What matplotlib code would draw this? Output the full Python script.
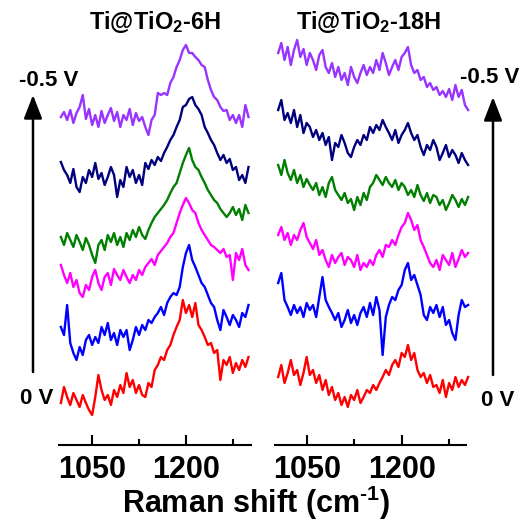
import numpy as np
import matplotlib
matplotlib.use("Agg")
import matplotlib.pyplot as plt
from matplotlib.ticker import FixedLocator

plt.rcParams['font.family'] = ['Liberation Sans', 'DejaVu Sans']
plt.rcParams['font.weight'] = 'bold'
plt.rcParams['mathtext.fontset'] = 'custom'
plt.rcParams['mathtext.rm'] = 'Liberation Sans:bold'
plt.rcParams['mathtext.bf'] = 'Liberation Sans:bold'
plt.rcParams['mathtext.default'] = 'bf'

# Raman shift grids (cm^-1)
x_6h = np.arange(1000, 1305, 5)
x_18h = np.arange(1005, 1310, 5)

# Stacked intensities (a.u., offsets included), bottom (0 V) to top (-0.5 V)
red_6h = [42, 58, 48, 40, 52, 45, 38, 50, 42, 35, 30, 48, 70, 55, 45, 50, 40, 55, 48, 60,
          52, 72, 58, 65, 52, 60, 50, 48, 62, 58, 75, 80, 88, 85, 95, 100, 110, 118, 125, 145,
          132, 140, 128, 142, 120, 115, 108, 100, 102, 92, 95, 65, 85, 80, 88, 72, 82, 75, 85, 78, 88]
blue_6h = [118, 110, 140, 102, 92, 85, 98, 90, 105, 110, 100, 108, 102, 118, 110, 122, 105, 112, 100, 115,
           108, 115, 95, 105, 118, 110, 120, 115, 125, 122, 128, 132, 138, 130, 142, 148, 152, 150, 158, 178,
           192, 200, 185, 178, 170, 162, 158, 150, 142, 138, 125, 115, 135, 128, 120, 130, 125, 118, 132, 128, 140]
magenta_6h = [180, 170, 162, 172, 158, 165, 152, 148, 160, 155, 168, 175, 162, 155, 168, 172, 160, 176, 170, 165,
              175, 168, 162, 170, 165, 175, 170, 178, 182, 186, 180, 190, 194, 198, 202, 208, 212, 222, 232, 240,
              247, 242, 235, 232, 222, 215, 210, 205, 200, 198, 195, 192, 196, 188, 190, 165, 192, 185, 196, 180, 175]
green_6h = [208, 200, 212, 205, 198, 210, 203, 195, 207, 200, 190, 182, 200, 205, 195, 210, 203, 212, 200, 208,
            198, 212, 205, 215, 208, 218, 210, 206, 215, 222, 228, 232, 236, 240, 245, 252, 258, 262, 272, 282,
            290, 297, 285, 278, 275, 268, 262, 255, 250, 245, 242, 236, 232, 228, 232, 238, 230, 236, 225, 240, 232]
navy_6h = [283, 275, 270, 262, 276, 258, 253, 268, 262, 275, 268, 282, 266, 272, 260, 268, 278, 270, 248, 265,
           258, 278, 268, 275, 262, 270, 260, 282, 276, 285, 280, 288, 284, 292, 298, 305, 310, 318, 325, 338,
           340, 346, 348, 340, 336, 330, 318, 312, 305, 300, 292, 285, 290, 282, 286, 275, 278, 265, 270, 262, 278]
purple_6h = [328, 333, 325, 335, 322, 332, 338, 350, 326, 336, 320, 330, 318, 334, 322, 330, 337, 324, 333, 318,
             330, 325, 336, 320, 332, 324, 328, 318, 310, 325, 330, 352, 350, 352, 350, 362, 368, 378, 385, 395,
             400, 392, 392, 388, 385, 380, 378, 365, 355, 348, 345, 338, 334, 335, 325, 330, 322, 330, 318, 340, 328]

red_18h = [68, 80, 62, 72, 85, 70, 75, 60, 72, 88, 70, 75, 62, 70, 55, 65, 50, 58, 45, 52,
           40, 48, 38, 50, 45, 55, 42, 48, 55, 52, 60, 55, 62, 68, 75, 70, 80, 85, 78, 92,
           88, 100, 85, 92, 75, 68, 72, 62, 70, 58, 60, 52, 65, 48, 62, 55, 68, 58, 65, 60, 68]
blue_18h = [162, 172, 145, 138, 130, 140, 132, 138, 128, 142, 135, 140, 128, 148, 168, 145, 138, 132, 125, 132,
            118, 125, 135, 122, 130, 120, 132, 138, 128, 142, 130, 148, 135, 90, 128, 140, 148, 145, 155, 160,
            175, 182, 165, 170, 160, 150, 130, 125, 138, 132, 140, 128, 138, 120, 125, 112, 105, 130, 145, 138, 140]
magenta_18h = [210, 218, 205, 212, 200, 210, 205, 215, 222, 208, 202, 196, 205, 190, 195, 185, 178, 190, 182, 188,
               192, 180, 188, 185, 178, 190, 175, 182, 178, 185, 180, 190, 195, 188, 200, 198, 205, 200, 210, 218,
               222, 232, 225, 215, 220, 205, 198, 190, 182, 178, 185, 175, 190, 185, 180, 192, 178, 186, 195, 188, 192]
green_18h = [280, 270, 285, 272, 265, 275, 262, 270, 258, 266, 260, 255, 262, 250, 258, 248, 262, 268, 255, 250,
             245, 252, 242, 246, 235, 248, 240, 252, 245, 258, 262, 270, 265, 260, 268, 262, 258, 265, 255, 262,
             258, 250, 255, 248, 260, 250, 244, 252, 242, 250, 248, 240, 245, 235, 242, 250, 245, 238, 246, 240, 248]
navy_18h = [335, 345, 325, 332, 322, 335, 318, 330, 312, 322, 318, 308, 315, 305, 312, 300, 308, 285, 302, 298,
            310, 302, 292, 288, 298, 305, 300, 310, 305, 318, 312, 320, 315, 325, 318, 312, 305, 315, 302, 310,
            315, 322, 312, 305, 310, 298, 290, 300, 295, 305, 298, 285, 292, 300, 288, 295, 290, 282, 292, 285, 280]
purple_18h = [392, 402, 385, 398, 380, 395, 405, 388, 396, 380, 392, 385, 375, 390, 395, 378, 372, 382, 368, 378,
              365, 372, 360, 378, 368, 362, 372, 380, 370, 378, 372, 385, 375, 392, 382, 370, 378, 385, 375, 388,
              392, 398, 380, 372, 375, 365, 368, 358, 362, 355, 358, 350, 354, 348, 356, 345, 360, 348, 355, 340, 335]

colors = ['#FF0000', '#0000FF', '#FF00FF', '#007F00', '#00007F', '#9933FF']
series_6h = [red_6h, blue_6h, magenta_6h, green_6h, navy_6h, purple_6h]
series_18h = [red_18h, blue_18h, magenta_18h, green_18h, navy_18h, purple_18h]

titles = [r'Ti@TiO$_{2}$-6H', r'Ti@TiO$_{2}$-18H']
major_ticks = [1050, 1200]
minor_ticks = [1125, 1275]
tick_labels = ['1050', '1200']

W, H = 528, 521
fig = plt.figure(figsize=(W / 100, H / 100), dpi=100)

def px_rect(x0, x1, ytop, ybot):
    return [x0 / W, 1 - ybot / H, (x1 - x0) / W, (ybot - ytop) / H]

ax1 = fig.add_axes(px_rect(59, 251, 10, 445))
ax2 = fig.add_axes(px_rect(275, 470, 10, 445))

for ax, xs, series, xlim, bounds in [(ax1, x_6h, series_6h, (997, 1304), (997, 1304)),
                                      (ax2, x_18h, series_18h, (1000, 1308), (1000, 1301))]:
    for ys, c in zip(series, colors):
        ax.plot(xs, ys, color=c, lw=1.7, clip_on=False)
    ax.set_xlim(*xlim)
    ax.set_ylim(0, 435)
    for s in ['left', 'right', 'top']:
        ax.spines[s].set_visible(False)
    ax.spines['bottom'].set_linewidth(1.5)
    ax.spines['bottom'].set_bounds(*bounds)
    ax.set_yticks([])
    ax.xaxis.set_major_locator(FixedLocator(major_ticks))
    ax.xaxis.set_minor_locator(FixedLocator(minor_ticks))
    ax.set_xticklabels(tick_labels)
    ax.tick_params(axis='x', which='major', direction='in', length=7, width=1.5,
                   labelsize=22, pad=7)
    ax.tick_params(axis='x', which='minor', direction='in', length=4, width=1.5)
    ax.patch.set_alpha(0)

def ft(x, y, s, size, ha='center', va='center'):
    fig.text(x / W, 1 - y / H, s, fontsize=size, fontweight='bold', ha=ha, va=va)

ft(155, 22, titles[0], 17)
ft(369, 22, titles[1], 17)
ft(19, 80, '-0.5 V', 16, ha='left')
ft(20, 399, '0 V', 16, ha='left')
ft(460, 78, '-0.5 V', 16, ha='left')
ft(481, 400, '0 V', 16, ha='left')
ft(256, 513, r'Raman shift (cm$^{\text{-1}}$)', 22, va='baseline')

for xa, yb, yt in [(33, 372, 95), (493, 375, 97)]:
    fig.add_artist(matplotlib.patches.FancyArrowPatch(
        (xa / W, 1 - yb / H), (xa / W, 1 - yt / H), transform=fig.transFigure,
        arrowstyle='-|>,head_length=0.9,head_width=0.35', mutation_scale=16,
        color='black', lw=1.8, shrinkA=0, shrinkB=0))

fig.savefig('out.png', dpi=100)
